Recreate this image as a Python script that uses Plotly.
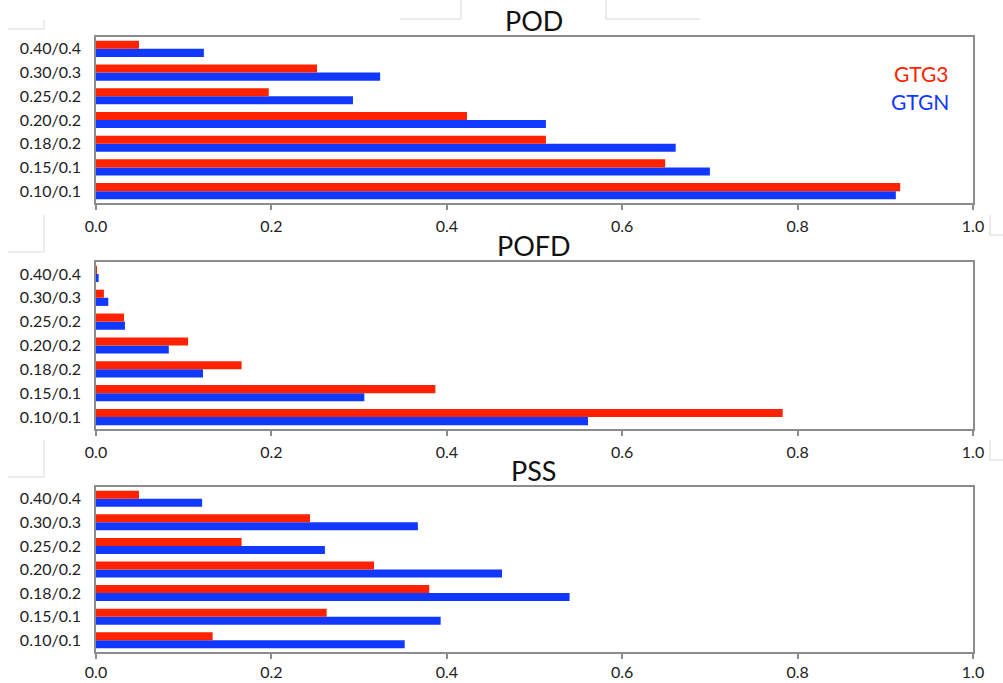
import plotly.graph_objects as go

categories = ["0.10/0.1", "0.15/0.1", "0.18/0.2", "0.20/0.2", "0.25/0.2", "0.30/0.3", "0.40/0.4"]
panel_titles = ["POD", "POFD", "PSS"]
series_names = ["GTG3", "GTGN"]

pod_gtg3 = [0.917, 0.649, 0.513, 0.423, 0.197, 0.252, 0.049]
pod_gtgn = [0.912, 0.700, 0.661, 0.513, 0.293, 0.324, 0.123]

pofd_gtg3 = [0.783, 0.387, 0.166, 0.105, 0.032, 0.009, 0.001]
pofd_gtgn = [0.561, 0.306, 0.122, 0.083, 0.033, 0.014, 0.003]

pss_gtg3 = [0.133, 0.263, 0.380, 0.317, 0.166, 0.244, 0.049]
pss_gtgn = [0.352, 0.393, 0.540, 0.463, 0.261, 0.367, 0.121]

x_ticks = [0.0, 0.2, 0.4, 0.6, 0.8, 1.0]
x_ticktext = ["0.0", "0.2", "0.4", "0.6", "0.8", "1.0"]

W, H = 1003, 683
RED = "#FF2200"
BLUE = "#1038FF"
GRID = "#8c8c8c"
FONT = "Lato"

# plot-area pixel boxes (left, top, right, bottom) and tick-label standoff
boxes = [(96, 37, 973, 203), (96, 262, 973, 429), (96, 487, 973, 652)]
standoffs = [3, 3, 0]

def px_x(x):
    return x / W

def px_y(y):
    return 1 - y / H

data_sets = [(pod_gtg3, pod_gtgn), (pofd_gtg3, pofd_gtgn), (pss_gtg3, pss_gtgn)]

fig = go.Figure()
layout = dict(
    width=W, height=H,
    margin=dict(l=0, r=0, t=0, b=0, autoexpand=False),
    paper_bgcolor="white", plot_bgcolor="white",
    barmode="group", bargap=0.32, bargroupgap=0.0,
    showlegend=False,
    font=dict(family=FONT, color="#222222"),
)

annotations = []
for i, ((g3, gn), (l, t, r, b)) in enumerate(zip(data_sets, boxes)):
    sfx = "" if i == 0 else str(i + 1)
    xa, ya = "x" + sfx, "y" + sfx
    fig.add_trace(go.Bar(y=categories, x=gn, orientation="h", name=series_names[1],
                         marker=dict(color=BLUE, line=dict(width=0)), xaxis=xa, yaxis=ya))
    fig.add_trace(go.Bar(y=categories, x=g3, orientation="h", name=series_names[0],
                         marker=dict(color=RED, line=dict(width=0)), xaxis=xa, yaxis=ya))
    layout["xaxis" + sfx] = dict(
        domain=[px_x(l), px_x(r)], anchor=ya, range=[0, 1.0], automargin=False,
        tickvals=x_ticks, ticktext=x_ticktext, ticks="outside", ticklen=5,
        tickcolor=GRID, tickwidth=1.5,
        showline=True, linecolor=GRID, linewidth=1.5, mirror=True,
        showgrid=False, zeroline=False,
        tickfont=dict(family=FONT, size=16, color="#222222"),
        ticklabelstandoff=standoffs[i],
    )
    layout["yaxis" + sfx] = dict(
        domain=[px_y(b), px_y(t)], anchor=xa, type="category", automargin=False,
        categoryorder="array", categoryarray=categories,
        showline=True, linecolor=GRID, linewidth=1.5, mirror=True,
        ticks="", showgrid=False, zeroline=False,
        tickfont=dict(family=FONT, size=16, color="#222222"),
        ticklabelstandoff=10,
    )
    annotations.append(dict(
        text=panel_titles[i], xref="paper", yref="paper",
        x=px_x(534), y=px_y(t - 17), xanchor="center", yanchor="middle",
        showarrow=False, font=dict(family=FONT, size=27, color="#111111"),
    ))

annotations.append(dict(text=series_names[0], xref="paper", yref="paper",
                        x=px_x(951), y=px_y(73), xanchor="right", yanchor="middle",
                        showarrow=False, font=dict(family=FONT, size=21, color=RED)))
annotations.append(dict(text=series_names[1], xref="paper", yref="paper",
                        x=px_x(951), y=px_y(101), xanchor="right", yanchor="middle",
                        showarrow=False, font=dict(family=FONT, size=21, color=BLUE)))
layout["annotations"] = annotations

# faint page-border artifacts visible in the screenshot
faint = "#d9d9d9"
segs = [
    (8, 29, 44, 29), (44, 20, 44, 29),
    (461, 0, 461, 19), (606, 0, 606, 19), (400, 19, 461, 19), (606, 19, 700, 19),
    (8, 252, 44, 252), (44, 215, 44, 252),
    (8, 477, 44, 477), (44, 440, 44, 477),
    (990, 215, 990, 235), (990, 235, 1003, 235), (990, 440, 990, 460), (990, 460, 1003, 460),
]
layout["shapes"] = [dict(type="line", xref="paper", yref="paper",
                         x0=px_x(a), y0=px_y(b_), x1=px_x(c), y1=px_y(d),
                         line=dict(color=faint, width=1)) for a, b_, c, d in segs]

fig.update_layout(**layout)
fig.write_html("out.html")
